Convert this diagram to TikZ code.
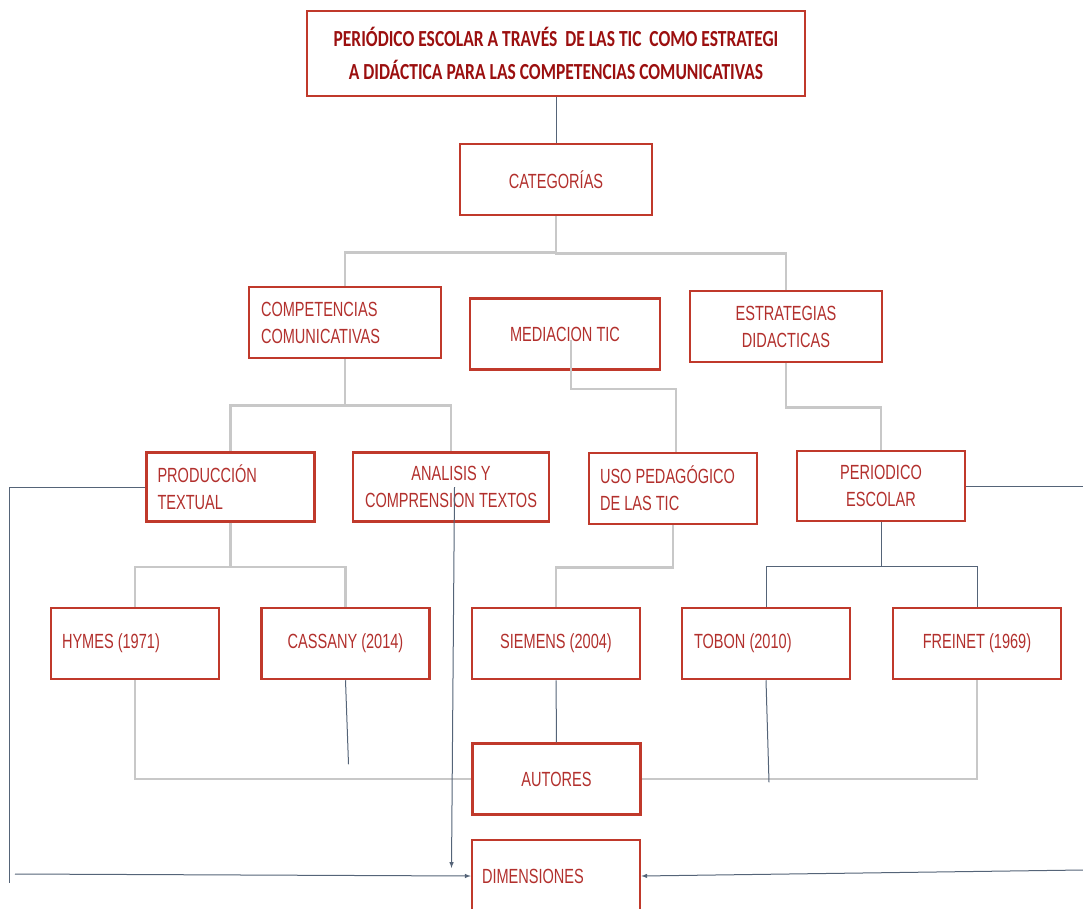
\documentclass[tikz,border=0pt]{standalone}
\usepackage{fontspec}
\setmainfont{Liberation Sans}[FakeStretch=0.71]
\newfontfamily\titlefont{Carlito}[FakeStretch=0.76]
\usepackage{tikz}
\usetikzlibrary{shapes,arrows, positioning}
\definecolor{boxred}{RGB}{192,57,43}
\definecolor{txtred}{RGB}{178,48,45}
\definecolor{ttlred}{RGB}{155,15,15}
\definecolor{lgray}{RGB}{200,200,200}
\definecolor{slate}{RGB}{85,100,120}
\tikzstyle{tbox} = [draw=boxred, line width=2.5pt, text=ttlred, align=center, minimum width=498pt, minimum height=85pt, font=\titlefont\bfseries\fontsize{23}{33}\selectfont]
\tikzstyle{rbox} = [draw=boxred, line width=2.5pt, text=txtred, align=center, inner sep=0pt, font=\fontsize{20.5}{27}\selectfont]
\tikzstyle{lbox} = [rbox, align=flush left, inner xsep=11pt, text width=146pt]
\tikzstyle{wsize} = [minimum width=192pt, minimum height=71pt]
\tikzstyle{nsize} = [minimum width=168pt, minimum height=71pt]
\tikzstyle{gline} = [draw=lgray, line width=2.5pt]
\tikzstyle{dline} = [draw=slate, line width=1pt]

\begin{document}
\begin{tikzpicture}[x=1pt, y=-1pt]
			\useasboundingbox (0,0) rectangle (1083,909);
			\clip (0,0) rectangle (1083,909);

			\node [tbox] (title) at (556,53.5) {PERIÓDICO ESCOLAR A TRAVÉS\ \ DE LAS TIC\ \ COMO ESTRATEGI\\A DIDÁCTICA PARA LAS COMPETENCIAS COMUNICATIVAS};
			\node [rbox, wsize] (cat) at (556,179.5) {CATEGORÍAS};
			\node [lbox, wsize, text width=168pt, inner xsep=12pt] (comp) at (345,322.5) {COMPETENCIAS\\COMUNICATIVAS};
			\node [rbox, wsize, minimum width=190pt] (med) at (565,334) {MEDIACION TIC};
			\node [rbox, wsize] (estr) at (786,326.5) {ESTRATEGIAS\\DIDACTICAS};
			\node [lbox, nsize, minimum height=69pt] (prod) at (230.5,487) {PRODUCCIÓN\\TEXTUAL};
			\node [rbox, nsize, minimum width=196pt, minimum height=69pt] (anal) at (451,487) {ANALISIS Y\\COMPRENSION TEXTOS};
			\node [lbox, nsize] (uso) at (673,488.5) {USO PEDAGÓGICO\\DE LAS TIC};
			\node [rbox, nsize, minimum height=70pt] (peri) at (881,486) {PERIODICO\\ESCOLAR};
			\node [lbox, nsize] (hymes) at (135,643.5) {HYMES (1971)};
			\node [rbox, nsize] (cass) at (345.5,643.5) {CASSANY (2014)};
			\node [rbox, nsize] (siem) at (556,643.5) {SIEMENS (2004)};
			\node [lbox, nsize, inner xsep=12pt, text width=144pt] (tobon) at (766,643.5) {TOBON (2010)};
			\node [rbox, nsize] (frei) at (977,643.5) {FREINET (1969)};
			\node [rbox, nsize] (aut) at (556.5,779) {AUTORES};
			\node [lbox, nsize, inner xsep=10pt, text width=148pt, minimum height=72pt] (dim) at (556,876) {DIMENSIONES};

			\coordinate (lin) at (15,874);
			\coordinate (rin) at (1083,870);
			\coordinate (rout) at (1083,486);

			\path [dline] (title) -- (cat);
			\path [gline] (cat.south) -- ++(0,36) -| (comp.north);
			\path [gline] (cat.south) -- ++(0,37) -| (estr.north);
			\path [gline] (comp.south) -- ++(0,46) -| (prod.north);
			\path [gline] (comp.south) -- ++(0,46) -| (anal.north);
			\path [gline] ([xshift=6pt,yshift=-6pt]med.center) -- ++(0,49) -| ([xshift=3pt]uso.north);
			\path [gline] (estr.south) -- ++(0,44) -| (peri.north);
			\path [gline] (prod.south) -- ++(0,44) -| (hymes.north);
			\path [gline] (prod.south) -- ++(0,44) -| (cass.north);
			\path [gline] (uso.south) -- ++(0,42) -| (siem.north);
			\path [gline] (hymes.south) |- (aut.west);
			\path [gline] (aut.east) -| (frei.south);
			\path [dline] (peri.south) -- ++(0,44) -| (tobon.north);
			\path [dline] (peri.south) -- ++(0,44) -| (frei.north);
			\path [dline] (siem) -- (aut);
			\path [dline] (cass.south) -- ++(3,84);
			\path [dline] (tobon.south) -- ++(3,102);
			\path [dline, -latex] ([xshift=3.5pt]anal.center) -- ++(-3,381);
			\path [dline] (prod.west) -| ++(-136,396);
			\path [dline, -latex] (lin) -- (dim.west);
			\path [dline, -latex] (rin) -- (dim.east);
			\path [dline] (peri.east) -- (rout);
		\end{tikzpicture}
\end{document}
